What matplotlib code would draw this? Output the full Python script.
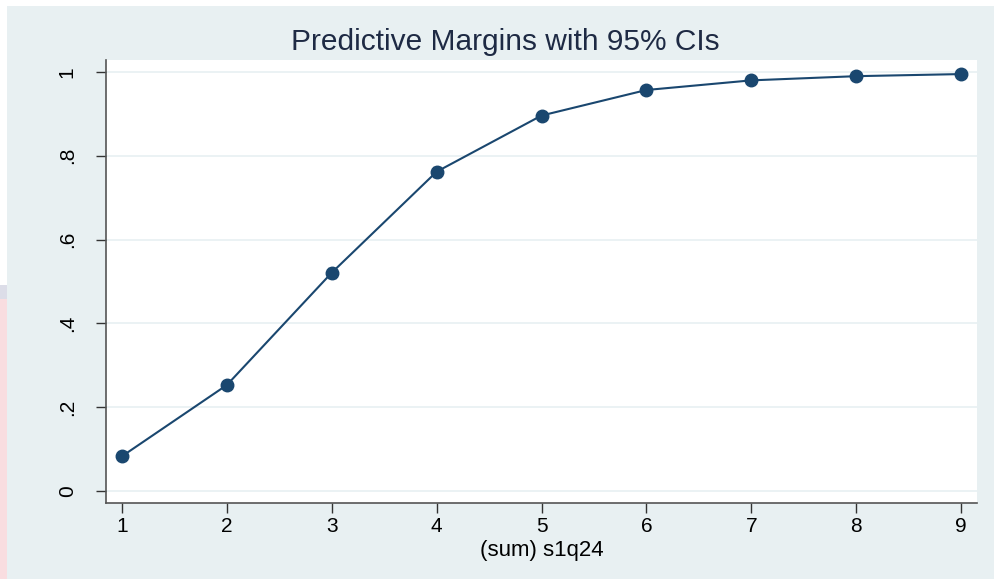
import matplotlib
matplotlib.use('Agg')
import matplotlib.pyplot as plt
import matplotlib.patches as patches
import numpy as np

plt.rcParams['font.family'] = ['Liberation Sans', 'DejaVu Sans']

# predictive margins by (sum) s1q24
levels = [1, 2, 3, 4, 5, 6, 7, 8, 9]
margins = [0.083, 0.253, 0.521, 0.762, 0.896, 0.957, 0.980, 0.990, 0.995]
ci_half = [0.006, 0.010, 0.012, 0.012, 0.008, 0.005, 0.003, 0.002, 0.001]

y_ticks = [0, 0.2, 0.4, 0.6, 0.8, 1.0]
y_labels = ['0', '.2', '.4', '.6', '.8', '1']

navy = '#1a476f'
bg = '#e8f0f2'

fig = plt.figure(figsize=(9.95, 5.79), dpi=100, facecolor='white')
# outer graph region, kept behind the axes
fig.patches.append(patches.Rectangle((7 / 995, 0), 988 / 995, 573 / 579, transform=fig.transFigure,
                                     facecolor=bg, edgecolor='none', zorder=-5))
fig.patches.append(patches.Rectangle((0, 0), 7 / 995, 280 / 579, transform=fig.transFigure,
                                     facecolor='#f9dde0', edgecolor='none', zorder=-5))
fig.patches.append(patches.Rectangle((0, 280 / 579), 7 / 995, 14 / 579, transform=fig.transFigure,
                                     facecolor='#dcdde8', edgecolor='none', zorder=-5))

ax = fig.add_axes([106 / 995, 76 / 579, 871 / 995, 443 / 579])
ax.set_facecolor('white')

ax.errorbar(levels, margins, yerr=ci_half, fmt='none', ecolor=navy, elinewidth=1.2, capsize=3, zorder=3)
ax.plot(levels, margins, color=navy, lw=1.5, marker='o', markersize=9, zorder=4)

ax.set_xlim(0.8474, 9.1526)
ax.set_ylim(-0.0286, 1.0286)
ax.set_xticks(levels)
ax.set_xticklabels([str(v) for v in levels], fontsize=15)
ax.set_yticks(y_ticks)
ax.set_yticklabels(y_labels, fontsize=15, rotation=90, va='center')
ax.grid(axis='y', color=bg, lw=1.2)
ax.set_axisbelow(True)

for side in ['top', 'right']:
    ax.spines[side].set_visible(False)
for side in ['left', 'bottom']:
    ax.spines[side].set_color('#555555')
    ax.spines[side].set_linewidth(1.2)
ax.tick_params(axis='both', direction='out', length=7, width=1, color='#333333', labelcolor='black')
ax.tick_params(axis='x', pad=3)
ax.tick_params(axis='y', pad=14)

ax.set_xlabel('(sum) s1q24', fontsize=16, labelpad=3)
fig.text(0.508, 0.927, 'Predictive Margins with 95% CIs', ha='center', va='center', fontsize=21.5, color='#1e2a44')

fig.savefig('out.png', dpi=100, facecolor=fig.get_facecolor())
